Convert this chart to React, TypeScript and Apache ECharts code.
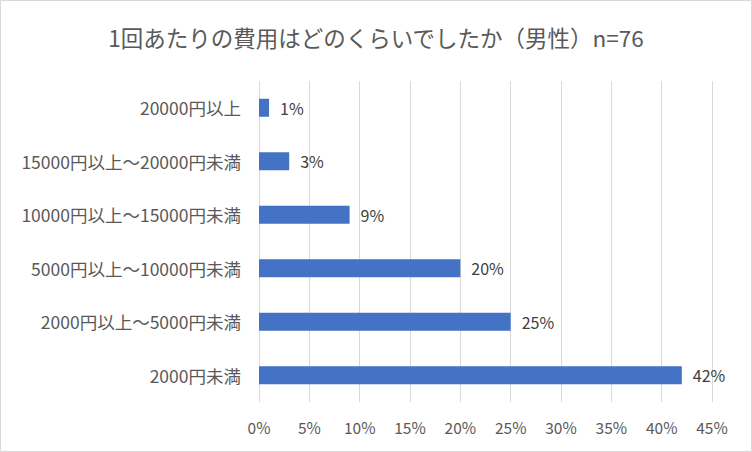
import React, { useEffect, useRef } from "react";
import * as echarts from "echarts";

const categories = [
  "2000円未満",
  "2000円以上～5000円未満",
  "5000円以上～10000円未満",
  "10000円以上～15000円未満",
  "15000円以上～20000円未満",
  "20000円以上",
];
const values = [42, 25, 20, 9, 3, 1];
const titleText = "1回あたりの費用はどのくらいでしたか（男性）n=76";

export default function App() {
  const ref = useRef<HTMLDivElement>(null);
  useEffect(() => {
    if (!ref.current) return;
    const chart = echarts.init(ref.current, undefined, { renderer: "svg" });
    const font = "'Noto Sans CJK JP', 'Noto Sans', sans-serif";
    chart.setOption({
      animation: false,
      backgroundColor: "#ffffff",
      title: {
        text: titleText,
        left: "center",
        top: 21,
        textStyle: { fontFamily: font, fontSize: 22.5, fontWeight: "normal", color: "#595959" },
      },
      graphic: [
        {
          type: "rect",
          shape: { x: 0.5, y: 0.5, width: 751, height: 451 },
          style: { fill: "none", stroke: "#d9d9d9", lineWidth: 1 },
          silent: true,
        },
      ],
      grid: { left: 259, right: 40, top: 81, bottom: 50, containLabel: false },
      xAxis: {
        type: "value",
        min: 0,
        max: 45,
        interval: 5,
        axisLine: { show: false },
        axisTick: { show: false },
        splitLine: { show: true, lineStyle: { color: "#d9d9d9", width: 1 } },
        axisLabel: {
          formatter: "{value}%",
          color: "#595959",
          fontFamily: font,
          fontSize: 15.5,
          margin: 17,
        },
      },
      yAxis: {
        type: "category",
        data: categories,
        axisLine: { show: false },
        axisTick: { show: false },
        splitLine: { show: false },
        axisLabel: { color: "#595959", fontFamily: font, fontSize: 17.5, margin: 18 },
      },
      series: [
        {
          type: "bar",
          data: values,
          barWidth: 18,
          itemStyle: { color: "#4472c4" },
          label: {
            show: true,
            position: "right",
            distance: 11,
            formatter: "{c}%",
            color: "#404040",
            fontFamily: font,
            fontSize: 16,
          },
        },
      ],
    });
    return () => chart.dispose();
  }, []);
  return (
    <div
      ref={ref}
      style={{ position: "fixed", left: 0, top: 0, width: 752, height: 452 }}
    />
  );
}
